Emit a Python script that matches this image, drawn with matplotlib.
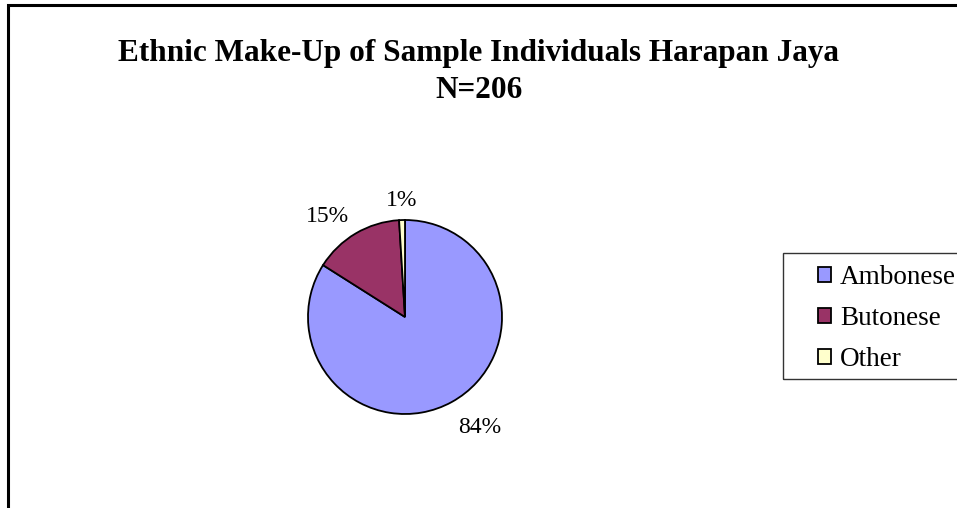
import numpy as np
import matplotlib.pyplot as plt
from matplotlib.patches import Rectangle

plt.rcParams['font.family'] = ['Liberation Serif', 'DejaVu Serif']

groups = ["Ambonese", "Butonese", "Other"]
counts = [173, 31, 2]
colors = ["#9999FF", "#993366", "#FFFFCC"]
title = "Ethnic Make-Up of Sample Individuals Harapan Jaya\nN=206"

W, H = 957, 508
fig = plt.figure(figsize=(W / 100, H / 100), dpi=100)


def px(x, y):
    # pixel position (from top-left) -> figure fraction
    return x / W, 1 - y / H


# chart frame, cut off at the right and bottom edges
fig.patches.append(Rectangle(px(8, 600), 1.2, (600 - 5) / H,
                             transform=fig.transFigure, fill=False,
                             edgecolor="black", linewidth=2.2))

fig.text(*px(479, 72), title, ha="center", va="center",
         fontsize=22.5, fontweight="bold", linespacing=1.32)

# pie: centre (405, 317) px, radius 97 px
cx, cy, r = 405, 317, 97
ax = fig.add_axes([(cx - r) / W, (H - cy - r) / H, 2 * r / W, 2 * r / H])
wedges, _ = ax.pie(
    counts, colors=colors, startangle=90, counterclock=False,
    wedgeprops=dict(edgecolor="black", linewidth=1.3),
)
ax.set_xlim(-1, 1)
ax.set_ylim(-1, 1)
ax.set_aspect("equal")

# percentage labels just outside each wedge
total = sum(counts)
for w, c in zip(wedges, counts):
    mid = np.deg2rad((w.theta1 + w.theta2) / 2)
    dx, dy = np.cos(mid), np.sin(mid)
    ha = "left" if dx > 0.2 else ("right" if dx < -0.2 else "center")
    va = "bottom" if dy > 0 else "top"
    ax.text(1.13 * dx, 1.13 * dy - 0.04, f"{c / total * 100:.0f}%",
            ha=ha, va=va, fontsize=17, clip_on=False)

# legend box runs off the right edge
fig.patches.append(Rectangle(px(783, 379), 0.3, (379 - 253) / H,
                             transform=fig.transFigure, fill=False,
                             edgecolor="#333333", linewidth=1.0))
handles = [Rectangle((0, 0), 1, 1, facecolor=c, edgecolor="black", linewidth=1.3)
           for c in colors]
fig.legend(handles, groups, loc="center left",
           bbox_to_anchor=px(818, 318.5),
           fontsize=19.5, frameon=False,
           handlelength=0.48, handleheight=0.48, handletextpad=0.33,
           labelspacing=0.6, borderpad=0, borderaxespad=0)

fig.savefig("out.png", dpi=100)
